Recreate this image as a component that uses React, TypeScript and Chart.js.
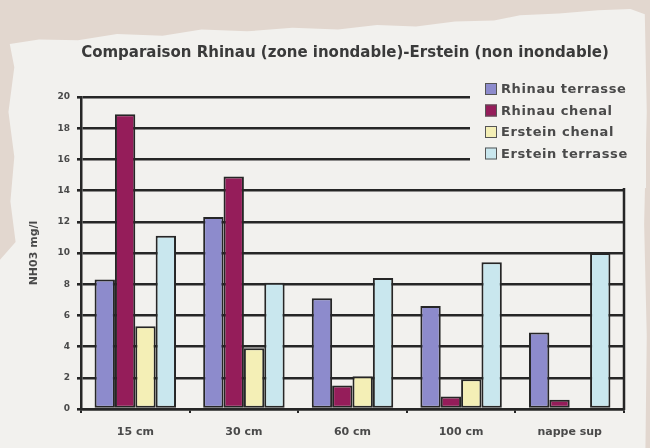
import React, { useEffect, useRef } from "react";
import { Chart, registerables } from "chart.js";

Chart.register(...registerables);

const TITLE = "Comparaison Rhinau (zone inondable)-Erstein (non inondable)";
const Y_TITLE = "NH03 mg/l";
const CATEGORIES = ["15 cm", "30 cm", "60 cm", "100 cm", "nappe sup"];
const SERIES_NAMES = ["Rhinau terrasse", "Rhinau chenal", "Erstein chenal", "Erstein terrasse"];
const RHINAU_TERRASSE = [8.3, 12.3, 7.1, 6.6, 4.9];
const RHINAU_CHENAL = [18.9, 14.9, 1.5, 0.8, 0.6];
const ERSTEIN_CHENAL = [5.3, 3.9, 2.1, 1.9, null];
const ERSTEIN_TERRASSE = [11.1, 8.1, 8.4, 9.4, 10.0];
const Y_MIN = 0;
const Y_MAX = 20;
const Y_STEP = 2;

const COLORS = ["#8d8bcc", "#951d5a", "#f4efb6", "#c9e7ee"];
const PAPER = "#f2f1ee";
const INK = "#262626";
const TEXT = "#4a4a4a";
const FONT = "'DejaVu Sans', Verdana, sans-serif";

const overlayPlugin = {
  id: "overlay",
  afterDatasetsDraw(chart: any) {
    const { ctx, chartArea } = chart;
    ctx.save();
    ctx.strokeStyle = INK;
    ctx.lineWidth = 2.5;
    ctx.beginPath();
    ctx.moveTo(chartArea.right, chartArea.top);
    ctx.lineTo(chartArea.right, chartArea.bottom + 1);
    ctx.stroke();
    ctx.restore();
  },
  afterDraw(chart: any) {
    const { ctx } = chart;
    ctx.save();
    // title
    ctx.font = `bold 15px ${FONT}`;
    ctx.fillStyle = "#3a3a3a";
    ctx.textAlign = "center";
    ctx.textBaseline = "middle";
    ctx.fillText(TITLE, 345, 53);
    // legend
    ctx.fillStyle = PAPER;
    ctx.fillRect(470, 76, 176, 112);
    ctx.font = `bold 13px ${FONT}`;
    ctx.textAlign = "left";
    try { (ctx as any).letterSpacing = "0.6px"; } catch (e) {}
    chart.data.datasets.forEach((ds: any, i: number) => {
      const y = 89 + i * 21.5;
      ctx.fillStyle = ds.backgroundColor;
      ctx.fillRect(485, y - 6, 12, 12);
      ctx.strokeStyle = "#555";
      ctx.lineWidth = 1;
      ctx.strokeRect(485.5, y - 5.5, 11, 11);
      ctx.fillStyle = TEXT;
      ctx.fillText(ds.label, 501, y + 1);
    });
    ctx.restore();
  },
};

export default function App() {
  const ref = useRef<HTMLCanvasElement>(null);
  useEffect(() => {
    if (!ref.current) return;
    const series = [RHINAU_TERRASSE, RHINAU_CHENAL, ERSTEIN_CHENAL, ERSTEIN_TERRASSE];
    const chart = new Chart(ref.current, {
      type: "bar",
      data: {
        labels: CATEGORIES,
        datasets: series.map((d, i) => ({
          label: SERIES_NAMES[i],
          data: d as any,
          backgroundColor: COLORS[i],
          borderColor: INK,
          borderWidth: 2,
          borderSkipped: false,
          categoryPercentage: 0.75,
          barPercentage: 1.0,
        })),
      },
      options: {
        animation: false,
        responsive: false,
        maintainAspectRatio: false,
        layout: { padding: { top: 97, right: 26, bottom: 0, left: 0 } },
        plugins: {
          legend: { display: false },
          title: { display: false },
          tooltip: { enabled: false },
        },
        scales: {
          x: {
            afterFit: (s: any) => { s.height = 39; },
            grid: { display: true, drawOnChartArea: false, drawTicks: true, tickLength: 4, color: INK, lineWidth: 2, offset: true },
            border: { display: true, color: INK, width: 2.5 },
            ticks: { color: TEXT, font: { family: FONT, size: 11, weight: "bold" }, padding: 13, maxRotation: 0 },
          },
          y: {
            min: Y_MIN,
            max: Y_MAX,
            afterFit: (s: any) => { s.width = 81; },
            grid: { color: INK, lineWidth: 2.6, drawTicks: true, tickLength: 4 },
            border: { display: true, color: INK, width: 2.5 },
            ticks: { stepSize: Y_STEP, color: TEXT, font: { family: FONT, size: 9, weight: "bold" }, padding: 7 },
            title: { display: true, text: Y_TITLE, color: TEXT, font: { family: FONT, size: 11, weight: "bold" }, padding: { top: 28, bottom: 0 } },
          },
        },
      },
      plugins: [overlayPlugin],
    });
    return () => chart.destroy();
  }, []);

  const paperClip =
    "polygon(1.5% 9.8%, 6% 8.8%, 12% 9%, 18% 7.6%, 25% 8%, 31% 6.6%, 38% 7%, 45% 6.2%, 52% 6.6%, 58% 5.6%, 64% 5.9%, 70% 4.8%, 76% 4.6%, 80% 3.4%, 86% 3.0%, 92% 2.3%, 97% 2.0%, 99.2% 3.2%, 99.5% 25%, 99.1% 50%, 99.5% 75%, 99.3% 100%, 0% 100%, 0% 58%, 2.4% 54%, 1.6% 45%, 2.2% 35%, 1.3% 25%, 2.2% 15%)";

  return (
    <div style={{ position: "fixed", left: 0, top: 0, width: 650, height: 448, background: "#e2d7cf", overflow: "hidden" }}>
      <div style={{ position: "absolute", left: 0, top: 0, width: 650, height: 448, background: PAPER, clipPath: paperClip }} />
      <canvas ref={ref} width={650} height={448} style={{ position: "absolute", left: 0, top: 0, width: 650, height: 448, filter: "blur(0.4px)" }} />
    </div>
  );
}
